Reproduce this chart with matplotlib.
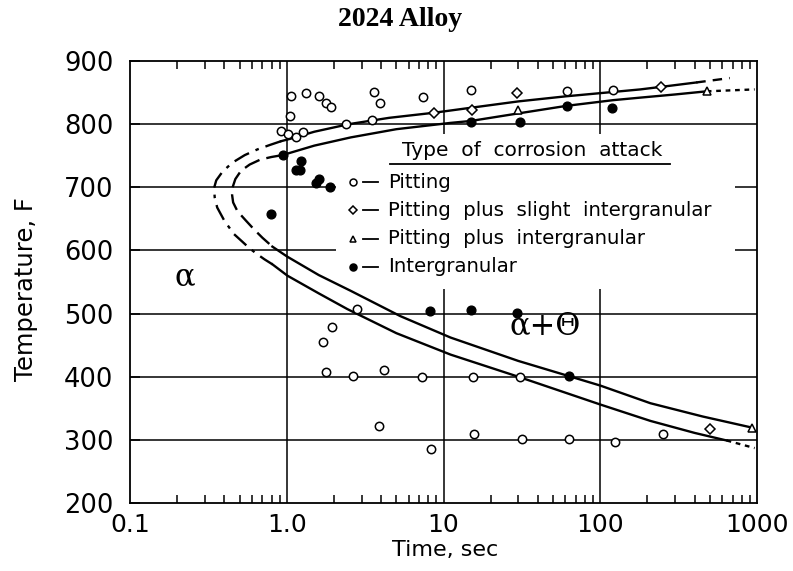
import matplotlib.pyplot as plt
import numpy as np

# --- data (time in sec, temperature in F) ---
pit_t = [1.06, 1.32, 1.6, 1.77, 1.91, 3.6, 3.93, 7.41, 1.045, 0.916, 1.025, 1.14, 1.27,
         2.38, 3.51, 14.9, 61.3, 121, 2.82, 1.71, 1.95, 1.79, 2.66, 4.16, 7.3, 15.5,
         30.9, 3.87, 8.36, 15.6, 31.8, 63.3, 125, 250]
pit_T = [845, 849, 845, 834, 827, 851, 834, 843, 813, 789, 784, 779, 788,
         801, 807, 854, 852, 854, 508, 455, 479, 408, 401, 410, 400, 400,
         400, 322, 286, 309, 301, 301, 297, 309]

slight_t = [8.66, 15.1, 29.6, 244, 498]
slight_T = [818, 823, 850, 859, 317]

plusig_t = [29.9, 480, 924]
plusig_T = [822, 852, 319]

ig_t = [0.94, 1.23, 1.15, 1.22, 1.53, 1.61, 1.89, 0.79, 14.9, 30.6, 61.3, 119,
        8.2, 15, 29.6, 62.8]
ig_T = [751, 742, 728, 728, 707, 713, 700, 657, 803, 803, 828, 826,
        504, 506, 501, 401]

# outer C-curve
outer_nose_t = [0.92, 0.78, 0.65, 0.54, 0.45, 0.39, 0.355, 0.344, 0.347, 0.36,
                0.40, 0.46, 0.52, 0.575, 0.64, 0.72, 0.81]
outer_nose_T = [773, 767, 760, 751, 739, 725, 711, 699, 684, 668,
                647, 626, 614, 604, 595, 586, 578]
outer_up_t = [0.92, 1.06, 1.5, 2.49, 4.5, 8.66, 15, 30, 60, 121, 180, 244, 410]
outer_up_T = [773, 777, 788, 800, 810, 818, 826, 836, 844, 851, 855, 859, 866]
outer_up_end_t = [410, 670]
outer_up_end_T = [866, 873]
outer_lo_t = [0.81, 1.01, 1.6, 2.44, 5.0, 11.1, 30, 100, 209, 400, 640]
outer_lo_T = [578, 560, 532, 507, 469, 435, 400, 356, 330, 311, 299]
outer_lo_end_t = [640, 966]
outer_lo_end_T = [299, 287]

# inner C-curve
inner_nose_t = [0.94, 0.80, 0.68, 0.58, 0.51, 0.47, 0.45, 0.448, 0.455, 0.485,
                0.55, 0.62, 0.70, 0.81]
inner_nose_T = [751, 748, 744, 736, 726, 713, 699, 688, 676, 662,
                647, 633, 620, 606]
inner_up_t = [0.94, 1.5, 2.56, 5.0, 11.1, 14.9, 30, 61, 121, 180, 300, 478]
inner_up_T = [751, 766, 779, 792, 802, 805, 817, 829, 838, 842, 847, 852]
inner_up_end_t = [478, 966]
inner_up_end_T = [852, 855]
inner_lo_t = [0.81, 1.01, 1.6, 2.56, 5.3, 11.1, 30, 63, 100, 209, 450, 907]
inner_lo_T = [606, 590, 561, 536, 496, 462, 425, 401, 386, 358, 337, 320]

x_ticks = [0.1, 1, 10, 100, 1000]
x_labels = ['0.1', '1.0', '10', '100', '1000']
y_ticks = [200, 300, 400, 500, 600, 700, 800, 900]

legend_labels = ['Pitting', 'Pitting plus slight intergranular',
                 'Pitting plus intergranular', 'Intergranular']

W, H = 793, 571
fig = plt.figure(figsize=(W / 100, H / 100), dpi=100)
ax = fig.add_axes([130 / W, 68 / H, 627 / W, 442 / H])
ax.set_xscale('log')
ax.set_xlim(0.1, 1000)
ax.set_ylim(200, 900)

# grid (broken where the key sits)
gkw = dict(color='black', lw=1.1, zorder=1)
ax.hlines([300, 400, 500, 800], 0.1, 1000, **gkw)
ax.hlines([600, 700], 0.1, 2.05, **gkw)
ax.hlines([600, 700], 724, 1000, **gkw)
ax.vlines(1, 200, 900, **gkw)
ax.vlines([10, 100], 784, 900, **gkw)
ax.vlines([10, 100], 200, 539, **gkw)

# curves
ckw = dict(color='black', lw=1.7, zorder=2, solid_joinstyle='round')
ax.plot(outer_nose_t, outer_nose_T, linestyle=(0, (7, 3, 1.5, 3)), **ckw)
ax.plot(outer_up_t, outer_up_T, **ckw)
ax.plot(outer_up_end_t, outer_up_end_T, linestyle=(0, (4, 3)), **ckw)
ax.plot(outer_lo_t, outer_lo_T, **ckw)
ax.plot(outer_lo_end_t, outer_lo_end_T, linestyle=(0, (2, 2)), **ckw)
ax.plot(inner_nose_t, inner_nose_T, linestyle=(0, (7, 3)), **ckw)
ax.plot(inner_up_t, inner_up_T, **ckw)
ax.plot(inner_up_end_t, inner_up_end_T, linestyle=(0, (2, 2)), **ckw)
ax.plot(inner_lo_t, inner_lo_T, **ckw)

# data points
okw = dict(linestyle='none', mfc='white', mec='black', mew=1.1, zorder=3)
ax.plot(pit_t, pit_T, marker='o', ms=6, **okw)
ax.plot(slight_t, slight_T, marker='D', ms=4.8, **okw)
ax.plot(plusig_t, plusig_T, marker='^', ms=6, **okw)
ax.plot(ig_t, ig_T, marker='o', ms=6.3, linestyle='none', color='black', zorder=3)

# key
def ax_xy(px, py):
    return (px - 130) / 627, (503 - py) / 442

tkw = dict(transform=ax.transAxes, fontsize=14.2, va='center', ha='left', family='DejaVu Sans')
hx, hy = ax_xy(402, 151)
ax.text(hx, hy, 'Type  of  corrosion  attack', **{**tkw, 'fontsize': 14.5})
ux0, uy = ax_xy(390, 164)
ux1, _ = ax_xy(670, 164)
ax.plot([ux0, ux1], [uy, uy], color='black', lw=1.3, transform=ax.transAxes)
key_markers = [dict(marker='o', mfc='white'), dict(marker='D', mfc='white', ms=4),
               dict(marker='^', mfc='white'), dict(marker='o', mfc='black')]
for i, (lab, mk) in enumerate(zip(legend_labels, key_markers)):
    py = 182 + i * 28.3
    mx, my = ax_xy(353, py)
    ax.plot([mx], [my], linestyle='none', mec='black', mew=1.1,
            **{'ms': 5, **mk}, transform=ax.transAxes, clip_on=False)
    d0, _ = ax_xy(363, py)
    d1, _ = ax_xy(378, py)
    ax.plot([d0, d1], [my, my], color='black', lw=1.3, transform=ax.transAxes)
    tx, _ = ax_xy(388, py)
    ax.text(tx, my, lab.replace(' ', '  '), **tkw)

# phase labels
ax.text(*ax_xy(185, 277), 'α', transform=ax.transAxes, fontsize=22,
        family='DejaVu Serif', ha='center', va='center')
ax.text(*ax_xy(545, 326), 'α+Θ', transform=ax.transAxes, fontsize=22,
        family='DejaVu Serif', ha='center', va='center')

# axes styling
for s in ax.spines.values():
    s.set_linewidth(1.3)
ax.set_xticks(x_ticks)
ax.set_xticklabels(x_labels)
ax.set_yticks(y_ticks)
ax.tick_params(axis='x', which='major', length=0, pad=7, labelsize=18)
ax.tick_params(axis='x', which='minor', direction='in', length=6, width=1.1,
               top=True, bottom=True, labelbottom=False)
ax.tick_params(axis='y', which='major', direction='in', length=7, width=1.1,
               pad=12, labelsize=18.5)
ax.tick_params(axis='y', which='minor', left=False)

fig.text(445 / W, 1 - 550 / H, 'Time, sec', fontsize=16, ha='center', va='center')
fig.text(26 / W, 1 - 289 / H, 'Temperature, F', fontsize=17.5, rotation=90,
         ha='center', va='center')
fig.text(400 / W, 1 - 20 / H, '2024 Alloy', fontsize=20, fontweight='bold',
         family='Liberation Serif', ha='center', va='center')

fig.savefig('out.png', dpi=100)
